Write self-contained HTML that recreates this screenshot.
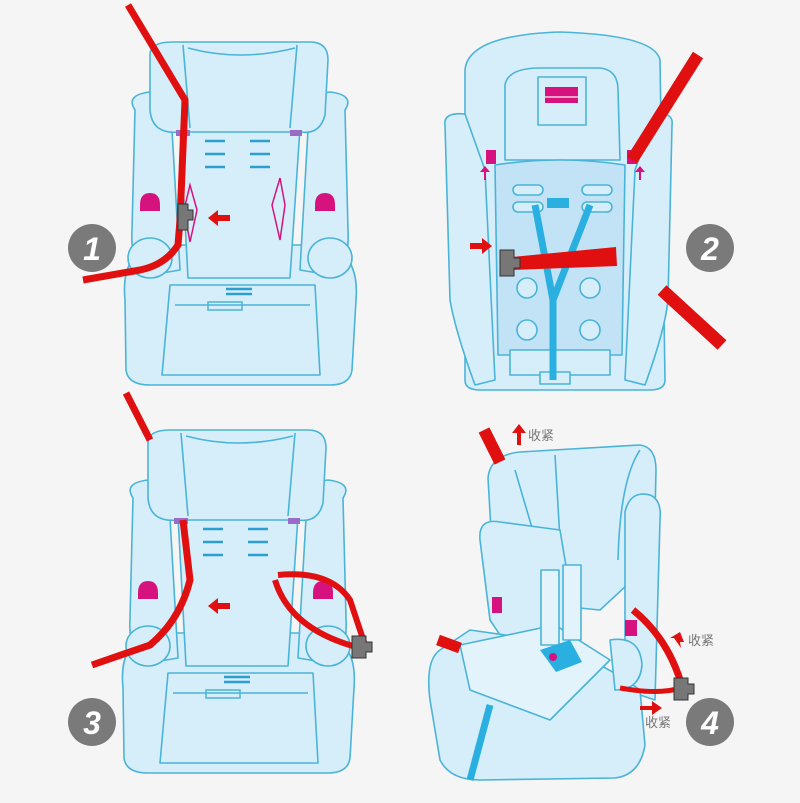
<!DOCTYPE html>
<html><head><meta charset="utf-8"><style>
html,body{margin:0;padding:0;background:#f5f5f5;}
svg{display:block}
text{font-family:"Liberation Sans","Noto Sans CJK SC",sans-serif}
</style></head><body>
<svg width="800" height="803" viewBox="0 0 800 803" xmlns="http://www.w3.org/2000/svg">
<rect width="800" height="803" fill="#f5f5f5"/>
<defs>
<g id="seatA" fill="#d6eefa" stroke="#4ab4d8" stroke-width="1.6" stroke-linejoin="round">
  <path d="M125 300 Q120 250 160 245 L320 245 Q360 250 356 300 L352 370 Q350 385 330 385 L150 385 Q128 385 126 370 Z"/>
  <path d="M170 285 L315 285 L320 375 L162 375 Z" fill="none"/>
  <path d="M175 305 L310 305" fill="none"/>
  <path d="M135 110 Q125 95 150 92 L170 95 L180 270 L150 275 Q130 270 132 230 Z"/>
  <path d="M345 110 Q355 95 330 92 L310 95 L300 270 L330 275 Q350 270 348 230 Z"/>
  <ellipse cx="150" cy="258" rx="22" ry="20"/>
  <ellipse cx="330" cy="258" rx="22" ry="20"/>
  <path d="M180 128 L300 128 L290 278 L188 278 Z"/>
  <path d="M150 55 Q150 42 172 42 L310 42 Q328 42 328 60 L325 115 Q320 135 300 132 L180 132 Q152 135 150 110 Z"/>
  <path d="M188 48 Q240 62 295 48" fill="none"/>
  <path d="M183 45 L190 128 M297 45 L290 128" fill="none"/>
</g>
<g id="seatAdeco" stroke="#2a9fd0" stroke-width="2.5" fill="none">
  <path d="M205 141h20M205 154h20M205 167h20M250 141h20M250 154h20M250 167h20M226 289h26M226 294h26"/>
</g>
</defs>

<!-- Panel 1 -->
<use href="#seatA"/>
<use href="#seatAdeco"/>
<path d="M208 302 h34 v8 h-34z" fill="none" stroke="#4ab4d8" stroke-width="1.5"/>
<path d="M140 205 q0-12 10-12 q10 0 10 12 v6 h-20z" fill="#d6127e"/>
<path d="M315 205 q0-12 10-12 q10 0 10 12 v6 h-20z" fill="#d6127e"/>
<path d="M190 185 L197 210 L190 242 L184 210 Z" fill="none" stroke="#d6127e" stroke-width="1.5"/>
<path d="M280 178 L285 205 L280 240 L272 205 Z" fill="none" stroke="#d6127e" stroke-width="1.5"/>
<path d="M176 130 h14 v6 h-14z M290 130 h12 v6 h-12z" fill="#9a6cc8"/>
<path d="M128 5 L185 100 L180 220 L178 245 Q165 265 140 270 L83 280" fill="none" stroke="#e01010" stroke-width="7"/>
<path d="M178 204 h10 v6 h5 v10 h-5 v10 h-10z" fill="#777" stroke="#333" stroke-width="1"/>
<path d="M230 215 h-12 v-5 l-10 8 l10 8 v-5 h12z" fill="#e01010"/>

<!-- Panel 3 -->
<g transform="translate(-2,388)">
<use href="#seatA"/>
<use href="#seatAdeco"/>
<path d="M208 302 h34 v8 h-34z" fill="none" stroke="#4ab4d8" stroke-width="1.5"/>
<path d="M140 205 q0-12 10-12 q10 0 10 12 v6 h-20z" fill="#d6127e"/>
<path d="M315 205 q0-12 10-12 q10 0 10 12 v6 h-20z" fill="#d6127e"/>
<path d="M176 130 h14 v6 h-14z M290 130 h12 v6 h-12z" fill="#9a6cc8"/>
</g>
<path d="M126 393 L150 440 M183 520 L190 580 Q180 620 150 645 L92 665" fill="none" stroke="#e01010" stroke-width="7"/>
<path d="M278 575 Q330 570 350 600 L365 645 M275 580 Q290 630 360 648" fill="none" stroke="#e01010" stroke-width="6"/>
<path d="M352 636 h14 v6 h6 v10 h-6 v6 h-14z" fill="#777" stroke="#333" stroke-width="1"/>
<path d="M230 603 h-12 v-5 l-10 8 l10 8 v-5 h12z" fill="#e01010"/>

<!-- Panel 2 -->
<g fill="#d6eefa" stroke="#4ab4d8" stroke-width="1.6" stroke-linejoin="round">
  <path d="M465 70 Q468 35 560 32 Q655 35 660 60 L665 380 Q665 390 650 390 L480 390 Q465 390 465 380 Z"/>
  <path d="M445 125 Q443 112 465 114 L485 170 L495 380 L475 385 Q455 330 450 300 Z"/>
  <path d="M672 125 Q674 112 655 114 L635 170 L625 380 L645 385 Q665 330 668 300 Z"/>
  <path d="M505 85 Q508 68 540 68 L600 68 Q618 70 618 90 L620 160 L505 160 Z"/>
  <path d="M538 77 h48 v48 h-48z"/>
  <path d="M495 165 Q560 155 625 165 L622 355 L498 355 Z" fill="#c2e2f6"/>
  <path d="M510 350 h100 v25 h-100z"/>
  <circle cx="527" cy="330" r="10" fill="#d6eefa"/><circle cx="590" cy="330" r="10" fill="#d6eefa"/>
  <circle cx="527" cy="288" r="10" fill="#d6eefa"/><circle cx="590" cy="288" r="10" fill="#d6eefa"/>
  <rect x="513" y="185" width="30" height="10" rx="5" fill="#d6eefa"/><rect x="582" y="185" width="30" height="10" rx="5" fill="#d6eefa"/>
  <rect x="513" y="202" width="30" height="10" rx="5" fill="#d6eefa"/><rect x="582" y="202" width="30" height="10" rx="5" fill="#d6eefa"/>
  <rect x="540" y="372" width="30" height="12"/>
</g>
<path d="M545 87 h33 v16 h-33z" fill="#d6127e"/>
<path d="M545 97 h33" stroke="#f0a0c8" stroke-width="2"/>
<path d="M535 205 L553 300 L590 205 M553 300 L553 380" fill="none" stroke="#2ab0e0" stroke-width="7"/>
<rect x="547" y="198" width="22" height="10" fill="#2ab0e0"/>
<path d="M486 150 h10 v14 h-10z M627 150 h10 v14 h-10z" fill="#d6127e"/>
<path d="M698 55 L632 160" stroke="#e01010" stroke-width="12"/>
<path d="M512 257 L616 247 L617 266 L512 270 Z" fill="#e01010"/>
<path d="M662 290 L722 345" stroke="#e01010" stroke-width="13"/>
<path d="M500 250 h14 v8 h6 v10 h-6 v8 h-14z" fill="#777" stroke="#333"/>
<path d="M470 243 h12 v-5 l10 8 l-10 8 v-5 h-12z" fill="#e01010"/>
<path d="M484 180 v-8 h-4 l5-6 l5 6 h-4 v8z M639 180 v-8 h-4 l5-6 l5 6 h-4 v8z" fill="#d6127e"/>

<!-- Panel 4 -->
<g fill="#d6eefa" stroke="#4ab4d8" stroke-width="1.6" stroke-linejoin="round">
  <path d="M488 478 Q490 455 520 452 L640 445 Q656 447 656 470 L654 560 L600 610 L495 600 Z"/>
  <path d="M515 470 L540 555 M555 455 L560 540 M640 450 Q620 480 618 560" fill="none"/>
  <path d="M480 540 Q478 518 500 522 L560 530 L580 650 L520 665 L490 620 Z"/>
  <path d="M625 512 Q630 490 650 495 Q662 500 660 520 L655 700 L625 690 Z"/>
  <path d="M440 650 Q425 660 430 700 L440 760 Q450 780 480 780 L615 778 Q640 775 645 745 L640 690 Q600 660 540 640 L470 630 Z"/>
  <path d="M460 645 L555 625 L610 660 L550 720 L470 690 Z" fill="#e2f3fb"/>
  <path d="M610 640 Q640 635 642 665 Q640 690 615 690 Z"/>
  <path d="M541 570 h18 v75 h-18z M563 565 h18 v75 h-18z" fill="#e2f3fb"/>
</g>
<path d="M540 650 L570 640 L582 662 L556 672 Z" fill="#2ab0e0"/>
<circle cx="553" cy="657" r="4" fill="#d6127e"/>
<path d="M490 705 L470 780" stroke="#2ab0e0" stroke-width="7" fill="none"/>
<path d="M492 597 h10 v16 h-10z M625 620 h12 v16 h-12z" fill="#d6127e"/>
<path d="M484 430 L500 462" stroke="#e01010" stroke-width="12"/>
<path d="M438 640 L460 648" stroke="#e01010" stroke-width="11"/>
<path d="M633 610 Q670 640 683 690" fill="none" stroke="#e01010" stroke-width="7"/>
<path d="M620 688 Q660 695 680 688" fill="none" stroke="#e01010" stroke-width="5"/>
<path d="M674 678 h14 v6 h6 v10 h-6 v6 h-14z" fill="#777" stroke="#333"/>
<path d="M517 445 v-12 h-5 l7-9 l7 9 h-5 v12z" fill="#e01010"/>
<path d="M681 648 l-7-10 h-4 l10-6 l4 10 h-4z" fill="#e01010"/>
<path d="M640 706 h12 v-5 l10 7 l-10 7 v-5 h-12z" fill="#e01010"/>
<text x="528" y="440" font-size="13" fill="#777">收紧</text>
<text x="688" y="645" font-size="13" fill="#777">收紧</text>
<text x="645" y="727" font-size="13" fill="#777">收紧</text>

<g fill="#7a7a7a">
<circle cx="92" cy="248" r="24"/><circle cx="710" cy="248" r="24"/>
<circle cx="92" cy="722" r="24"/><circle cx="710" cy="722" r="24"/>
</g>
<g fill="#fff" font-size="32" font-weight="bold" font-style="italic" text-anchor="middle">
<text x="92" y="260">1</text><text x="710" y="260">2</text>
<text x="92" y="734">3</text><text x="710" y="734">4</text>
</g>
</svg>
</body></html>
